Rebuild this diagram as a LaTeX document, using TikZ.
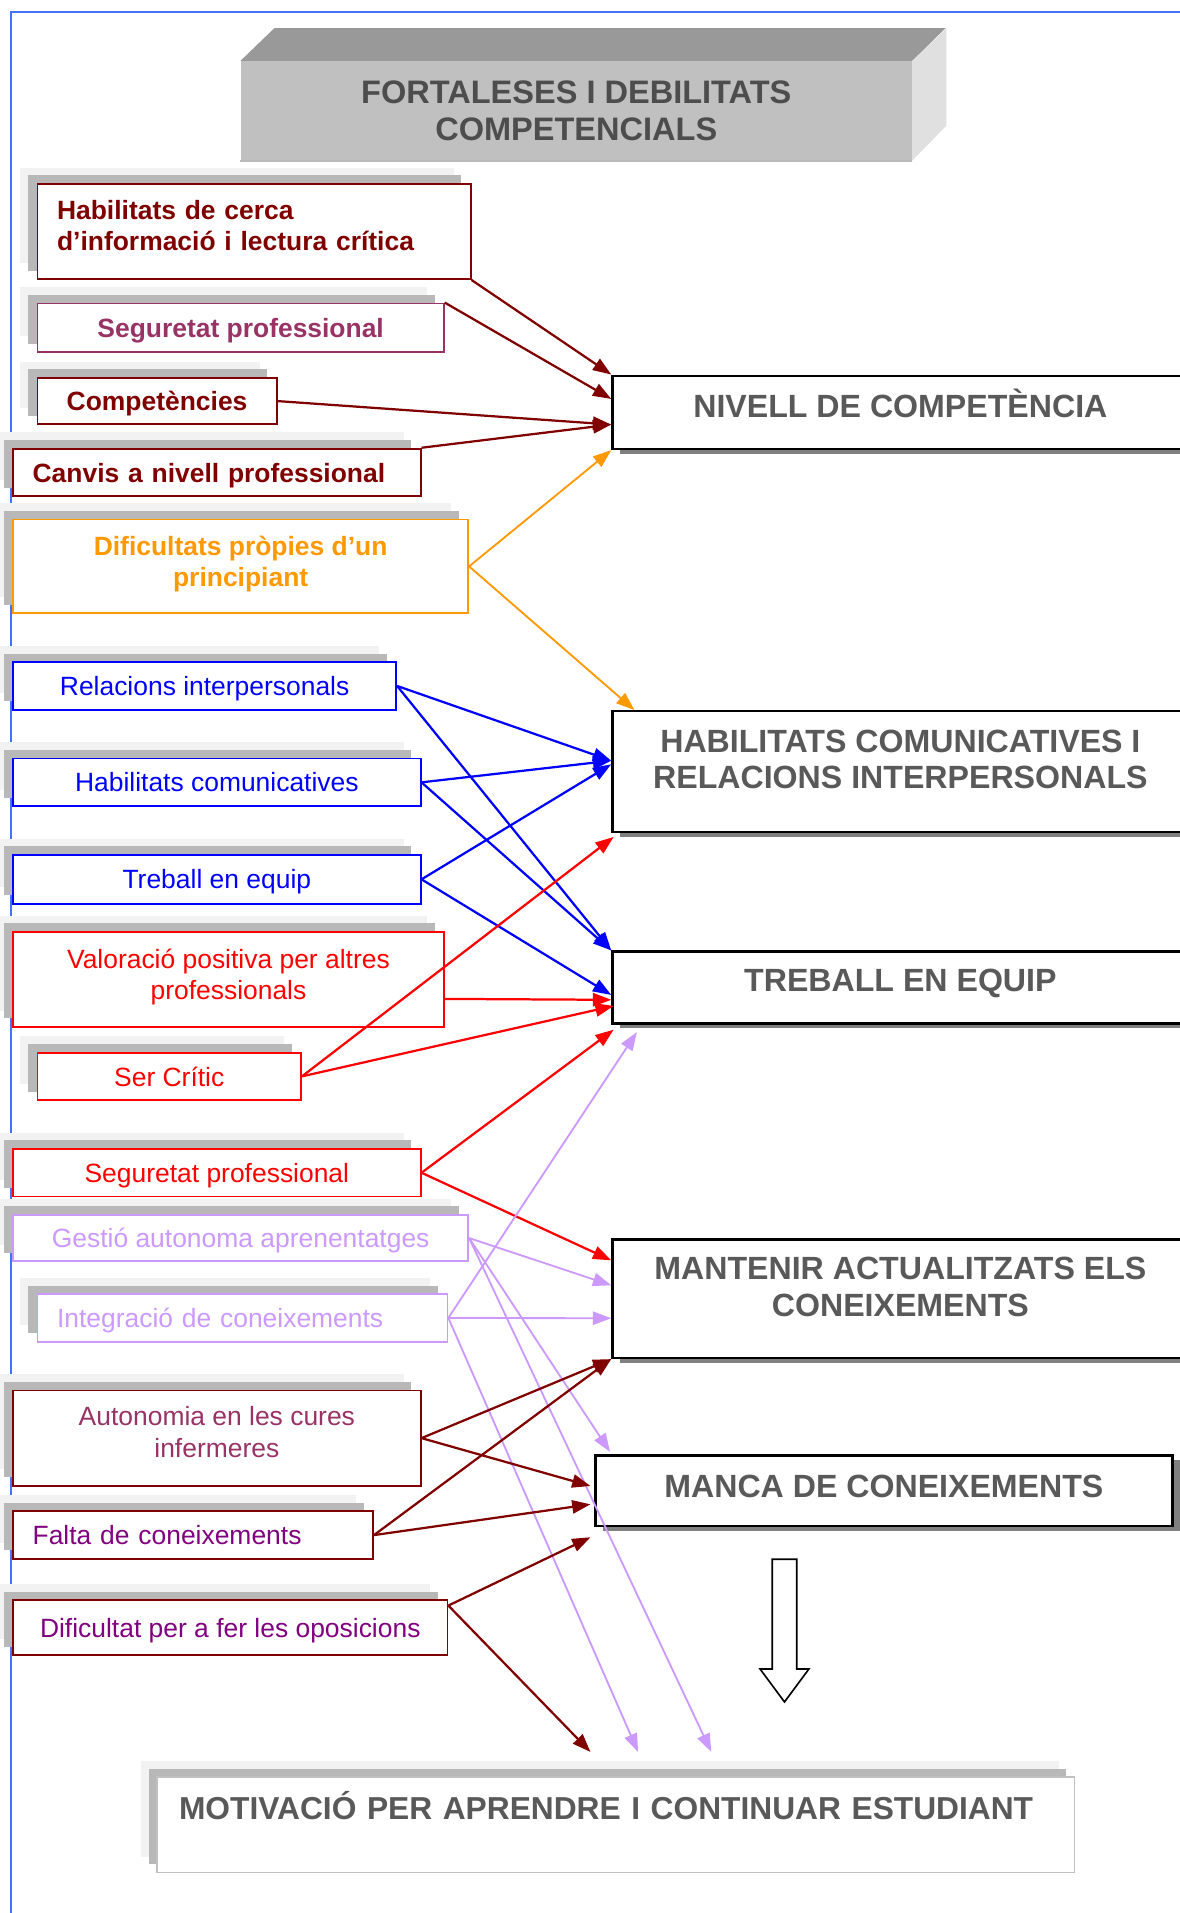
\documentclass[tikz,border=0pt]{standalone}
\usepackage{fontspec}
\setmainfont{Liberation Sans}
\usetikzlibrary{arrows.meta, positioning, shadows, calc}

\definecolor{brick}{HTML}{800000}
\definecolor{plum}{HTML}{993366}
\definecolor{amber}{HTML}{FF9900}
\definecolor{lilac}{HTML}{CC99FF}
\definecolor{grape}{HTML}{800080}
\definecolor{headgray}{HTML}{595959}
\definecolor{titlegray}{HTML}{4D4D4D}
\definecolor{frameblue}{HTML}{4472FF}
\definecolor{shadelight}{HTML}{F2F2F2}
\definecolor{shademid}{HTML}{B8B8B8}
\definecolor{shadedark}{HTML}{808080}
\definecolor{facefront}{HTML}{C0C0C0}
\definecolor{facetop}{HTML}{999999}
\definecolor{faceside}{HTML}{E0E0E0}

\newcommand{\pxu}{0.6pt}

\begin{document}
\begin{tikzpicture}[x=\pxu, y=-\pxu,
        % Source boxes: thin coloured border, two grey copies up-left
        src/.style={rectangle, draw=#1, text=#1, line width=0.9pt, fill=white,
            inner xsep=9.6pt, inner ysep=2pt, align=center,
            font=\fontsize{13}{15.6}\selectfont,
            general shadow={fill=shadelight, shadow xshift=-8.4pt, shadow yshift=8pt},
            general shadow={fill=shademid, shadow xshift=-4.5pt, shadow yshift=4.2pt}},
        srcbold/.style={src=#1, font=\bfseries\fontsize{13}{15.6}\selectfont},
        % Single line sources sit a little lower
        flat/.style={text depth=0pt},
        % Target boxes: black border, dark shadow down-right
        target/.style={rectangle, draw=black, line width=1.2pt, fill=white,
            text=headgray, align=center,
            font=\bfseries\fontsize{15.8}{18}\selectfont,
            general shadow={fill=shadedark, shadow xshift=3.6pt, shadow yshift=-2.4pt}},
        % Final goal box: pale border, grey copies like the sources
        goal/.style={rectangle, draw=facefront, line width=0.9pt, fill=white,
            text=headgray, inner xsep=10.8pt,
            font=\bfseries\fontsize{15.6}{18}\selectfont,
            general shadow={fill=shadelight, shadow xshift=-7.8pt, shadow yshift=7.8pt},
            general shadow={fill=shademid, shadow xshift=-4.2pt, shadow yshift=4.2pt}},
        titleface/.style={rectangle, fill=facefront, text=titlegray, align=center,
            font=\bfseries\fontsize{16}{18}\selectfont},
        % Size in pixel units of the sketch
        wh/.style 2 args={minimum width=#1*\pxu, minimum height=#2*\pxu},
        % Left aligned text inside a fixed box
        leftin/.style={text width=#1, align=left},
        % Push the text up by giving the last line extra depth
        lift/.style={execute at end node={\rule[-#1]{0pt}{#1}}},
        link/.style={draw=#1, line width=1.1pt, -{Triangle[length=9pt, width=6.5pt]}},
    ]

    \fill[white] (0,0) rectangle (967,1568);
    \useasboundingbox (0,0) rectangle (967,1568);
    \clip (0,0) rectangle (967,1568);

    % Page frame
    \draw[frameblue, line width=0.8pt] (9,1568) -- (9,10) -- (967,10);

    % === Title block ===
    \node[titleface, wh={550}{81}, anchor=north west] (title) at (197,50)
        {FORTALESES I DEBILITATS\\COMPETENCIALS};
    \fill[facetop] (title.north west) -- ++(28,-27) -- ++(550,0) -- (title.north east) -- cycle;
    \fill[faceside] (title.north east) -- ++(28,-27) -- ++(0,80) -- (title.south east) -- cycle;
    \draw[shademid, line width=1pt] (title.south west) -- (title.south east);

    % === Left column: strengths and weaknesses ===
    \node[srcbold=brick, wh={355}{78}, leftin=193.8pt, lift=6pt, anchor=north west] (b1) at (30,150)
        {Habilitats de cerca\\d’informació i lectura crítica};
    \node[srcbold=plum, flat, wh={333}{40}, anchor=north west] (b2) at (30,248) {Seguretat professional};
    \node[srcbold=brick, flat, wh={196}{38}, anchor=north west] (b3) at (30,309) {Competències};
    \node[srcbold=brick, flat, wh={334}{39}, leftin=181.2pt, anchor=north west] (b4) at (10,367)
        {Canvis a nivell professional};
    \node[srcbold=amber, wh={373}{77}, lift=5pt, anchor=north west] (b5) at (10,425)
        {Dificultats pròpies d’un\\principiant};
    \node[src=blue, flat, wh={314}{39}, anchor=north west] (b6) at (10,542) {Relacions interpersonals};
    \node[src=blue, flat, wh={334}{39}, anchor=north west] (b7) at (10,621) {Habilitats comunicatives};
    \node[src=blue, flat, wh={334}{40}, anchor=north west] (b8) at (10,700) {Treball en equip};
    \node[src=red, wh={353}{78}, lift=5pt, anchor=north west] (b9) at (10,763)
        {Valoració positiva per altres\\professionals};
    \node[src=red, flat, wh={216}{39}, anchor=north west] (b10) at (30,862) {Ser Crític};
    \node[src=red, flat, wh={334}{39}, anchor=north west] (b11) at (10,941) {Seguretat professional};
    \node[src=lilac, flat, wh={373}{38}, anchor=north west] (b12) at (10,995) {Gestió autonoma aprenentatges};
    \node[src=lilac, flat, wh={336}{39}, leftin=182.4pt, anchor=north west] (b13) at (30,1060)
        {Integració de coneixements};
    \node[src=brick, text=plum, wh={334}{78}, lift=6pt, anchor=north west] (b14) at (10,1139)
        {Autonomia en les cures\\infermeres};
    \node[src=brick, text=grape, flat, wh={295}{39}, leftin=157.8pt, anchor=north west] (b15) at (10,1238)
        {Falta de coneixements};
    \node[src=brick, text=grape, flat, wh={356}{45}, anchor=north west] (b16) at (10,1311)
        {Dificultat per a fer les oposicions};

    % === Right column: competence areas ===
    \node[target, wh={472}{60}, lift=9pt, anchor=north west] (A) at (501,307) {NIVELL DE COMPETÈNCIA};
    \node[target, wh={472}{99}, lift=12pt, anchor=north west] (B) at (501,582)
        {HABILITATS COMUNICATIVES I\\RELACIONS INTERPERSONALS};
    \node[target, wh={472}{59}, lift=7pt, anchor=north west] (C) at (501,779) {TREBALL EN EQUIP};
    \node[target, wh={472}{97}, lift=12pt, anchor=north west] (D) at (501,1015)
        {MANTENIR ACTUALITZATS ELS\\CONEIXEMENTS};
    \node[target, wh={473}{58}, lift=5pt, anchor=north west] (E) at (487,1192) {MANCA DE CONEIXEMENTS};
    \node[goal, wh={752}{78}, leftin=429.6pt, lift=19pt, anchor=north west] (F) at (128,1456)
        {MOTIVACIÓ PER APRENDRE I CONTINUAR ESTUDIANT};

    % === Connectors ===
    \draw[link=brick] (b1.south east) -- (A.north west);
    \draw[link=brick] (b2.north east) -- ($(A.west)+(0,-11)$);
    \draw[link=brick] (b3.east) -- ($(A.west)+(0,10)$);
    \draw[link=brick] (b4.north east) -- ($(A.west)+(0,10)$);
    \draw[link=amber, line width=0.9pt] (b5.east) -- (A.south west);
    \draw[link=amber, line width=0.9pt] (b5.east) -- ($(B.north west)+(19,0)$);

    \draw[link=blue] (b6.east) -- ($(B.west)+(0,-9)$);
    \draw[link=blue] (b6.east) -- (C.north west);
    \draw[link=blue] (b7.east) -- ($(B.west)+(0,-9)$);
    \draw[link=blue] (b7.east) -- (C.north west);
    \draw[link=blue] (b8.east) -- ($(B.west)+(0,-6)$);
    \draw[link=blue] (b8.east) -- ($(C.west)+(0,6)$);

    \draw[link=red] ($(b9.east)+(0,16)$) -- ($(C.west)+(0,10)$);
    \draw[link=red] (b10.east) -- ($(B.south west)+(2,3)$);
    \draw[link=red] (b10.east) -- ($(C.west)+(2,15)$);
    \draw[link=red] (b11.east) -- ($(C.south west)+(2,4)$);
    \draw[link=red] (b11.east) -- ($(D.north west)+(0,18)$);

    \draw[link=lilac, line width=0.9pt] (b12.east) -- ($(D.west)+(0,-11)$);
    \draw[link=lilac, line width=0.9pt] (b12.east) -- ($(E.north west)+(13,-2)$);
    \draw[link=lilac, line width=0.9pt] (b12.east) -- ($(F.north west)+(455,-20)$);
    \draw[link=lilac, line width=0.9pt] (b13.east) -- ($(C.south west)+(21,6)$);
    \draw[link=lilac, line width=0.9pt] (b13.east) -- ($(D.west)+(0,16)$);
    \draw[link=lilac, line width=0.9pt] (b13.east) -- ($(F.north west)+(395,-20)$);

    \draw[link=brick] (b14.east) -- (D.south west);
    \draw[link=brick] (b14.east) -- ($(E.west)+(-3,-4)$);
    \draw[link=brick] (b15.east) -- (D.south west);
    \draw[link=brick] (b15.east) -- ($(E.west)+(-3,11)$);
    \draw[link=brick] ($(b16.north east)+(0,5)$) -- ($(E.south west)+(-3,8)$);
    \draw[link=brick] ($(b16.north east)+(0,5)$) -- ($(F.north west)+(356,-20)$);

    % Hollow arrow towards the goal
    \draw[line width=0.8pt, fill=white] (633,1278) -- (653,1278) -- (653,1368) -- (663,1368)
        -- (643,1395) -- (623,1368) -- (633,1368) -- cycle;

\end{tikzpicture}
\end{document}
